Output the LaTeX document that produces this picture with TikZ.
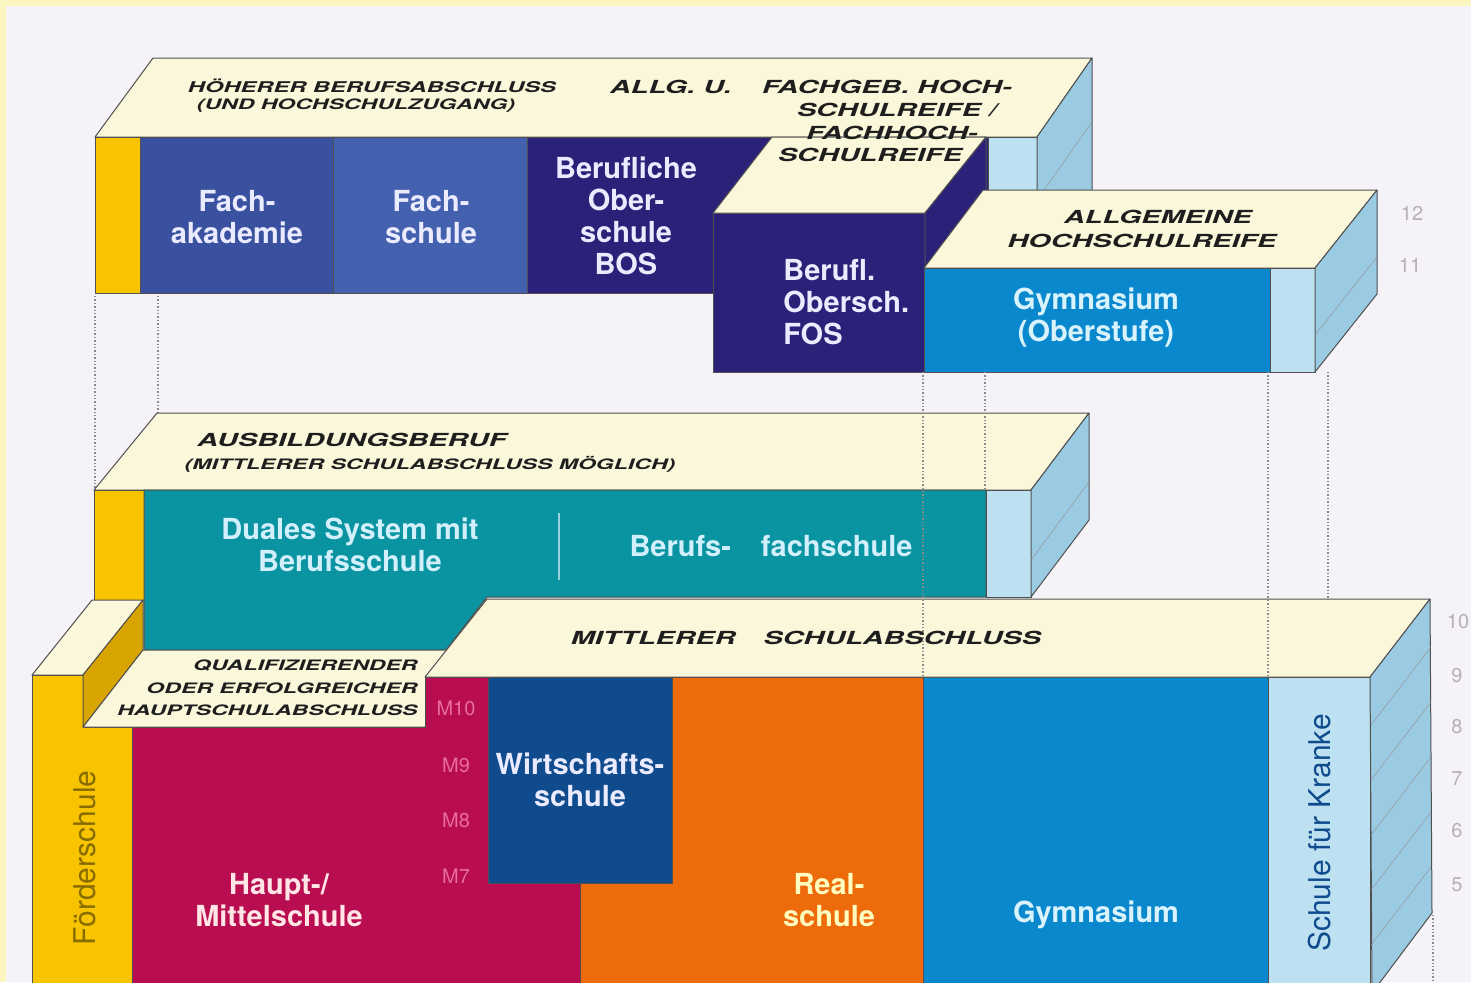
\documentclass[tikz,border=0pt]{standalone}
\usepackage{fontspec}
\setmainfont{TeX Gyre Heros}
\newfontfamily\widefont[FakeStretch=1.6]{TeX Gyre Heros}

\definecolor{frame}{HTML}{FBF5C0}
\definecolor{paper}{HTML}{F5F3F8}
\definecolor{cream}{HTML}{FBF7DA}
\definecolor{edge}{HTML}{505050}
\definecolor{foerder}{HTML}{F8C400}
\definecolor{foerderside}{HTML}{D8A500}
\definecolor{fachak}{HTML}{3A51A0}
\definecolor{fachsch}{HTML}{4461AF}
\definecolor{bos}{HTML}{2B2178}
\definecolor{gymblue}{HTML}{0A88CE}
\definecolor{lightstrip}{HTML}{BEE1F1}
\definecolor{sideblue}{HTML}{9ACBE3}
\definecolor{dualteal}{HTML}{0A93A0}
\definecolor{hauptred}{HTML}{B80D50}
\definecolor{wirtblue}{HTML}{0F4B8D}
\definecolor{realorange}{HTML}{EE6B0B}
\definecolor{ink}{HTML}{1E1E1E}
\definecolor{gradegray}{HTML}{B5B0B8}
\definecolor{mpink}{HTML}{E86CA0}
\definecolor{guidegray}{HTML}{8A8A8A}

\tikzstyle{face} = [draw=edge, line width=0.5pt, line join=round]
\tikzstyle{topface} = [face, fill=cream]
\tikzstyle{side} = [face, fill=sideblue]
\tikzstyle{hatch} = [draw=edge!60, line width=0.25pt]
\tikzstyle{guide} = [draw=guidegray, densely dotted, line width=0.7pt]
\tikzstyle{boxtext} = [font=\fontsize{14.5}{16}\selectfont\bfseries, align=center, text=white, inner sep=0pt]
\tikzstyle{header} = [font=\widefont\fontsize{9}{11}\selectfont\bfseries\itshape, text=ink, inner sep=0pt]
\tikzstyle{subheader} = [font=\widefont\fontsize{7.2}{11.2}\selectfont\bfseries\itshape, text=ink, inner sep=0pt]
\tikzstyle{grade} = [font=\fontsize{10}{12}\selectfont, text=gradegray, inner sep=0pt]
\tikzstyle{mlevel} = [font=\fontsize{10}{12}\selectfont, text=mpink, inner sep=0pt]
\tikzstyle{sideways} = [font=\fontsize{15}{16}\selectfont, rotate=90, inner sep=0pt]

\begin{document}
\begin{tikzpicture}[x=0.5pt, y=-0.5pt]
  % frame and paper
  \fill[frame] (0,0) rectangle (1471,982);
  \fill[paper] (6,6) rectangle (1471,982);
  \useasboundingbox (0,0) rectangle (1471,982);

  % guide lines behind the blocks
  \draw[guide] (95,296) -- (95,488);
  \draw[guide] (158,296) -- (158,412);
  \draw[guide] (1328,372) -- (1328,598);

  % upper block
  \filldraw[topface] (95,137) -- (153,58) -- (1092,58) -- (1037,137) -- cycle;
  \filldraw[face, fill=foerder] (95,137) rectangle (140,293);
  \filldraw[face, fill=fachak] (140,137) rectangle (333,293);
  \filldraw[face, fill=fachsch] (333,137) rectangle (527,293);
  \filldraw[face, fill=bos] (527,137) rectangle (988,293);
  \filldraw[face, fill=lightstrip] (988,137) rectangle (1037,293);
  \filldraw[side] (1037,137) -- (1092,58) -- (1092,215) -- (1037,293) -- cycle;
  \draw[hatch] (1037,200) -- (1092,122);

  % FOS step
  \filldraw[face, fill=bos] (713,213) rectangle (925,372);
  \filldraw[topface] (713,213) -- (772,137) -- (986,137) -- (925,213) -- cycle;
  \filldraw[face, fill=bos] (925,213) -- (986,137) -- (986,294) -- (925,372) -- cycle;

  % Gymnasium (Oberstufe)
  \filldraw[topface] (924,268) -- (983,190) -- (1377,190) -- (1315,268) -- cycle;
  \filldraw[face, fill=gymblue] (924,268) rectangle (1270,372);
  \filldraw[face, fill=lightstrip] (1270,268) rectangle (1315,372);
  \filldraw[side] (1315,268) -- (1377,190) -- (1377,294) -- (1315,372) -- cycle;
  \draw[hatch] (1315,335) -- (1377,257);

  % middle block
  \filldraw[topface] (94,490) -- (157,413) -- (1089,413) -- (1031,490) -- cycle;
  \filldraw[face, fill=foerder] (94,490) rectangle (144,600);
  \filldraw[face, fill=dualteal] (144,490) -- (986,490) -- (986,597) -- (487,597) -- (446,650) -- (144,650) -- cycle;
  \filldraw[face, fill=lightstrip] (986,490) rectangle (1031,597);
  \filldraw[side] (1031,490) -- (1089,413) -- (1089,520) -- (1031,597) -- cycle;
  \draw[hatch] (1031,560) -- (1089,482);
  \draw[draw=lightstrip!80!dualteal, line width=1pt] (559,513) -- (559,580);

  % lower block
  \filldraw[topface] (32,675) -- (92,600) -- (143,600) -- (83,675) -- cycle;
  \filldraw[face, fill=foerder] (32,675) -- (83,675) -- (83,727) -- (132,727) -- (132,995) -- (32,995) -- cycle;
  \filldraw[face, fill=foerderside] (83,675) -- (143,600) -- (143,650) -- (83,727) -- cycle;
  \filldraw[topface] (83,727) -- (143,650) -- (486,650) -- (425,727) -- cycle;
  \filldraw[face, fill=hauptred] (132,727) -- (425,727) -- (425,677) -- (488,677) -- (488,883) -- (580,883) -- (580,995) -- (132,995) -- cycle;
  \filldraw[face, fill=wirtblue] (488,677) rectangle (672,883);
  \filldraw[face, fill=realorange] (580,883) -- (672,883) -- (672,677) -- (923,677) -- (923,995) -- (580,995) -- cycle;
  \filldraw[face, fill=gymblue] (923,677) rectangle (1268,995);
  \filldraw[face, fill=lightstrip] (1268,677) rectangle (1370,995);
  \filldraw[topface] (425,677) -- (487,599) -- (1430,599) -- (1370,677) -- cycle;
  \filldraw[side] (1370,677) -- (1430,599) -- (1432,913) -- (1372,993) -- cycle;
  \foreach \y in {725,780,835,890,945}
    \draw[hatch] (1371,\y) -- (1431,\y-78);

  % guide lines in front
  \draw[guide] (923,372) -- (923,677);
  \draw[guide] (985,372) -- (985,490);
  \draw[guide] (1268,372) -- (1268,677);
  \draw[guide] (1433,915) -- (1433,982);

  % headers
  \node (hoeher) [header, font=\widefont\fontsize{7.4}{9}\selectfont\bfseries\itshape] at (372,86) {HÖHERER BERUFSABSCHLUSS};
  \node (zugang) [subheader] at (356,106) {(UND HOCHSCHULZUGANG)};
  \node (allg) [header] at (671,87) {ALLG. U.};
  \node (fachgeb) [header] at (887,87) {FACHGEB. HOCH-};
  \node (reife1) [header] at (897,110) {SCHULREIFE /};
  \node (fachhoch) [header] at (892,133) {FACHHOCH-};
  \node (reife2) [header] at (870,155) {SCHULREIFE};
  \node (allgemein) [header] at (1158,217) {ALLGEMEINE};
  \node (hsreife) [header] at (1142,241) {HOCHSCHULREIFE};
  \node (ausbildung) [header] at (352,440) {AUSBILDUNGSBERUF};
  \node (moeglich) [subheader] at (430,464) {(MITTLERER SCHULABSCHLUSS MÖGLICH)};
  \node (mittlerer) [header] at (806,638) {MITTLERER\hspace{14pt}SCHULABSCHLUSS};
  \node (quali) [subheader, align=right, anchor=east] at (418,688) {QUALIFIZIERENDER\\ODER ERFOLGREICHER\\HAUPTSCHULABSCHLUSS};

  % school types
  \node (fachakademie) [boxtext, text=white!92!blue] at (237,217) {Fach-\\akademie};
  \node (fachschule) [boxtext, text=white!92!blue] at (431,217) {Fach-\\schule};
  \node (bosname) [boxtext, text=white!92!blue] at (626,216) {Berufliche\\Ober-\\schule\\BOS};
  \node (fosname) [boxtext, text=white!92!blue, align=left, anchor=west] at (783,302) {Berufl.\\Obersch.\\FOS};
  \node (gymober) [boxtext, text=cyan!15] at (1096,318) {Gymnasium\\(Oberstufe)};
  \node (dual) [boxtext, text=cyan!18] at (350,545) {Duales System mit\\Berufsschule};
  \node (bfs) [boxtext, text=cyan!18] at (771,546) {Berufs-\hspace{15pt}fachschule};
  \node (foerderschule) [sideways, text=foerder!55!black] at (85,858) {Förderschule};
  \node (haupt) [boxtext, text=pink!40] at (279,900) {Haupt-/\\Mittelschule};
  \node (wirtschaft) [boxtext, text=blue!8] at (580,780) {Wirtschafts-\\schule};
  \node (real) [boxtext, text=yellow!25] at (829,900) {Real-\\schule};
  \node (gym) [boxtext, text=cyan!15] at (1096,915) {Gymnasium};
  \node (kranke) [sideways, text=wirtblue] at (1320,833) {Schule für Kranke};

  % M levels
  \node (m10) [mlevel] at (456,708) {M10};
  \node (m9) [mlevel] at (456,765) {M9};
  \node (m8) [mlevel] at (456,820) {M8};
  \node (m7) [mlevel] at (456,876) {M7};

  % grades
  \node (g12) [grade] at (1412,213) {12};
  \node (g11) [grade] at (1410,265) {11};
  \node (g10) [grade] at (1458,622) {10};
  \node (g9) [grade] at (1457,676) {9};
  \node (g8) [grade] at (1457,727) {8};
  \node (g7) [grade] at (1457,779) {7};
  \node (g6) [grade] at (1457,831) {6};
  \node (g5) [grade] at (1457,885) {5};
\end{tikzpicture}
\end{document}
